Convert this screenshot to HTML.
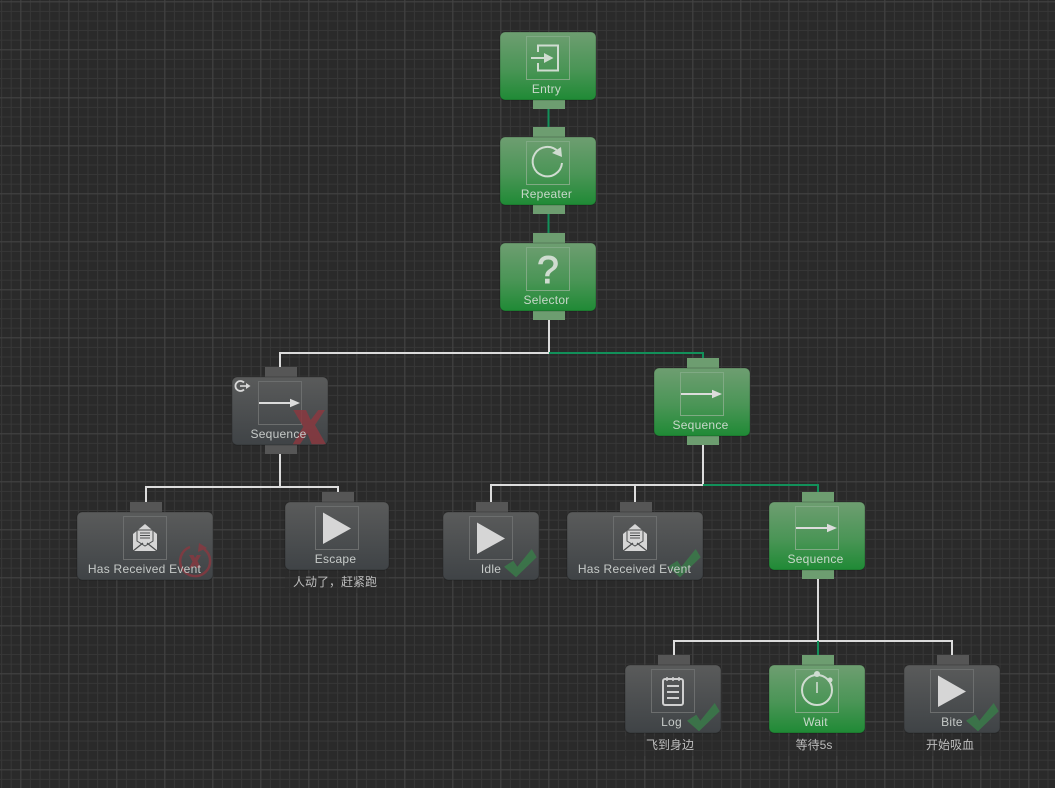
<!DOCTYPE html>
<html><head><meta charset="utf-8"><style>
html,body{margin:0;padding:0;background:#2a2a2a;overflow:hidden}
svg{display:block}
text{font-family:"Liberation Sans","Noto Sans CJK SC",sans-serif;font-size:12px;fill:#c6cac8;text-anchor:middle;letter-spacing:.25px}
text.gt{fill:#c8d8ca}
text.c{letter-spacing:0;fill:#bdbdbd}
</style></head><body>
<svg width="1055" height="788" viewBox="0 0 1055 788" xmlns="http://www.w3.org/2000/svg">
<defs>
<pattern id="minor" x="1.1" y="1.3" width="9.6" height="9.6" patternUnits="userSpaceOnUse"><path d="M.5 0V9.6M0 .5H9.6" stroke="#373737" stroke-width="1" fill="none"/></pattern>
<pattern id="major" x="20.3" y="1.3" width="48" height="48" patternUnits="userSpaceOnUse"><path d="M.5 0V48M0 .5H48" stroke="#434343" stroke-width="1" fill="none"/></pattern>
<linearGradient id="g" x1="0" y1="0" x2="0" y2="1"><stop offset="0" stop-color="#6e9e71"/><stop offset=".55" stop-color="#4a9556"/><stop offset="1" stop-color="#1f8a35"/></linearGradient>
<linearGradient id="k" x1="0" y1="0" x2="0" y2="1"><stop offset="0" stop-color="#5a5b5b"/><stop offset="1" stop-color="#3f4346"/></linearGradient>
<g id="check"><path d="M-17 3.700L-7.700 -2.300L-3.700 3.700L10.700 -14L15.700 -5.700L-5 14.300Z" fill="#3a7a49" fill-opacity=".85"/></g>
<g id="play"><path d="M8 6.500V38L36 22.500Z" fill="#d6d6d6"/></g>
<g id="seq"><path d="M1 22H34" stroke="#dcdcdc" stroke-width="2"/><path d="M32 17.700L42 22L32 26.300Z" fill="#dcdcdc"/></g>
<g id="mail"><path d="M10 18L22 8L34 18V35H10Z" fill="#d6d6d6"/><path d="M14 14H30V25L22 30L14 25Z" fill="#d6d6d6" stroke="#4c4e4f" stroke-width="1"/><path d="M17 17H27M17 19.500H27M17 22H27" stroke="#4c4e4f" stroke-width="1"/><path d="M10 35L20 27M34 35L24 27" stroke="#4c4e4f" stroke-width="1.200"/></g>
</defs>
<rect width="1055" height="788" fill="#2a2a2a"/>
<rect width="1055" height="788" fill="url(#minor)"/>
<rect width="1055" height="788" fill="url(#major)"/>

<!-- comment backdrops -->
<g fill="#2a2a2a" fill-opacity=".35">
<rect x="285" y="573" width="104" height="20"/><rect x="625" y="736" width="96" height="20"/><rect x="769" y="736" width="96" height="20"/><rect x="904" y="736" width="96" height="20"/>
</g>

<!-- connectors -->
<g fill="none" stroke-width="2">
<path d="M549 320V353M280 367V353H549M280 454V487M146 502V487H338V492M703 445V485M491 502V485H703M635 502V485M818 579V641M674 655V641H952V655" stroke="#dcdcdc"/>
<path d="M548.500 109V127M548.500 214V233M549 353H703V358M703 485H818V492M818 641V655" stroke="#12905a"/>
</g>

<!-- ports gray -->
<g fill="#565656">
<rect x="265" y="367" width="32" height="10"/><rect x="265" y="445" width="32" height="9"/>
<rect x="130" y="502" width="32" height="10"/><rect x="322" y="492" width="32" height="10"/>
<rect x="476" y="502" width="32" height="10"/><rect x="620" y="502" width="32" height="10"/>
<rect x="658" y="655" width="32" height="10"/><rect x="937" y="655" width="32" height="10"/>
</g>
<!-- ports green -->
<g fill="#6d9d70">
<rect x="533" y="100" width="32" height="9"/><rect x="533" y="127" width="32" height="10"/>
<rect x="533" y="205" width="32" height="9"/><rect x="533" y="233" width="32" height="10"/>
<rect x="533" y="311" width="32" height="9"/>
<rect x="687" y="358" width="32" height="10"/><rect x="687" y="436" width="32" height="9"/>
<rect x="802" y="492" width="32" height="10"/><rect x="802" y="570" width="32" height="9"/>
<rect x="802" y="655" width="32" height="10"/>
</g>

<!-- bodies -->
<g stroke="#000" stroke-opacity=".22" stroke-width="1">
<rect x="500" y="32" width="96" height="68" rx="5" fill="url(#g)"/>
<rect x="500" y="137" width="96" height="68" rx="5" fill="url(#g)"/>
<rect x="500" y="243" width="96" height="68" rx="5" fill="url(#g)"/>
<rect x="654" y="368" width="96" height="68" rx="5" fill="url(#g)"/>
<rect x="769" y="502" width="96" height="68" rx="5" fill="url(#g)"/>
<rect x="769" y="665" width="96" height="68" rx="5" fill="url(#g)"/>
<rect x="232" y="377" width="96" height="68" rx="5" fill="url(#k)"/>
<rect x="77" y="512" width="136" height="68" rx="5" fill="url(#k)"/>
<rect x="285" y="502" width="104" height="68" rx="5" fill="url(#k)"/>
<rect x="443" y="512" width="96" height="68" rx="5" fill="url(#k)"/>
<rect x="567" y="512" width="136" height="68" rx="5" fill="url(#k)"/>
<rect x="625" y="665" width="96" height="68" rx="5" fill="url(#k)"/>
<rect x="904" y="665" width="96" height="68" rx="5" fill="url(#k)"/>
</g>

<!-- icon boxes -->
<g fill="none" stroke="#80aa84" stroke-width="1">
<rect x="526.500" y="36.500" width="43" height="43"/><rect x="526.500" y="141.500" width="43" height="43"/><rect x="526.500" y="247.500" width="43" height="43"/>
<rect x="680.500" y="372.500" width="43" height="43"/><rect x="795.500" y="506.500" width="43" height="43"/><rect x="795.500" y="669.500" width="43" height="43"/>
</g>
<g fill="none" stroke="#6c6e6e" stroke-width="1">
<rect x="258.500" y="381.500" width="43" height="43"/><rect x="123.500" y="516.500" width="43" height="43"/><rect x="315.500" y="506.500" width="43" height="43"/>
<rect x="469.500" y="516.500" width="43" height="43"/><rect x="613.500" y="516.500" width="43" height="43"/>
<rect x="651.500" y="669.500" width="43" height="43"/><rect x="930.500" y="669.500" width="43" height="43"/>
</g>

<!-- icons -->
<g fill="none" stroke="#d0dcd1" stroke-width="2">
<path d="M538 52V45.500H558V70.500H538V63"/>
<path d="M531 58H545"/>
<path d="M544 53L553.500 58L544 63Z" fill="#d0dcd1" stroke="none"/>
<path d="M558 151.500A14.700 14.700 0 1 0 562 163"/>
</g>
<path d="M552 153L561 147L562 157Z" fill="#d0dcd1"/>
<text x="548" y="283" style="font-size:39px;fill:#cfdcd0;stroke:#cfdcd0;stroke-width:.9;letter-spacing:0">?</text>
<use href="#seq" x="680" y="372"/><use href="#seq" x="795" y="506"/><use href="#seq" x="258" y="381"/>
<use href="#mail" x="123" y="516"/><use href="#mail" x="613" y="516"/>
<use href="#play" x="315" y="506"/><use href="#play" x="469" y="516"/><use href="#play" x="930" y="669"/>
<!-- log -->
<g fill="none" stroke="#d0d0d0" stroke-width="2"><rect x="663" y="679" width="20" height="26" rx="2"/><path d="M667 686H679M667 692H679M667 698H679"/><path d="M667 677V681M673 677V681M679 677V681" stroke-width="1.500"/></g>
<!-- stopwatch -->
<g fill="none" stroke="#d0dcd1"><circle cx="817" cy="690" r="15" stroke-width="2"/><path d="M817 682V693" stroke-width="1.600"/></g>
<circle cx="817" cy="674" r="3" fill="#d0dcd1"/><circle cx="830" cy="680" r="2.500" fill="#d0dcd1"/>
<!-- abort icon -->
<g fill="none" stroke="#d8d8d8" stroke-width="1.800"><path d="M244 382.500A5 5 0 1 0 244 389.500"/></g><path d="M240 386H247" stroke="#d8d8d8" stroke-width="1.600"/><path d="M246 383L250.500 386L246 389Z" fill="#d8d8d8"/>

<!-- status markers -->
<path d="M293.300 410H306L310.700 420L318.300 410H325L315 425L326 444.300H311.700L307.300 433.300L300 444.300H292.700L303.300 426.700Z" fill="#8a3840" fill-opacity=".85"/>
<g opacity=".8">
<path d="M204 549A15 15 0 1 1 190 547" fill="none" stroke="#8a3840" stroke-width="2.500"/>
<path d="M199 543L207 548L198 552Z" fill="#8a3840"/>
<path d="M189 555H193.500L195 558L197 555H201L197.500 561L201 568H196.500L195 564.500L193 568H189L192.500 561.500Z" fill="#8a3840"/>
</g>
<use href="#check" x="521" y="563"/><use href="#check" x="685" y="563"/><use href="#check" x="704" y="717"/><use href="#check" x="983" y="717"/>

<!-- labels -->
<text class="gt" x="546.500" y="93">Entry</text>
<text class="gt" x="546.500" y="198">Repeater</text>
<text class="gt" x="546.500" y="304">Selector</text>
<text x="278.500" y="438">Sequence</text>
<text class="gt" x="700.500" y="429">Sequence</text>
<text class="gt" x="815.500" y="563">Sequence</text>
<text x="144.500" y="573">Has Received Event</text>
<text x="335.500" y="563">Escape</text>
<text x="491" y="573">Idle</text>
<text x="634.500" y="573">Has Received Event</text>
<text x="671.500" y="726">Log</text>
<text class="gt" x="815.500" y="726">Wait</text>
<text x="952" y="726">Bite</text>
<text class="c" x="335" y="586">人动了，赶紧跑</text>
<text class="c" x="670" y="749">飞到身边</text>
<text class="c" x="814" y="749">等待5s</text>
<text class="c" x="950" y="749">开始吸血</text>
</svg>
</body></html>
